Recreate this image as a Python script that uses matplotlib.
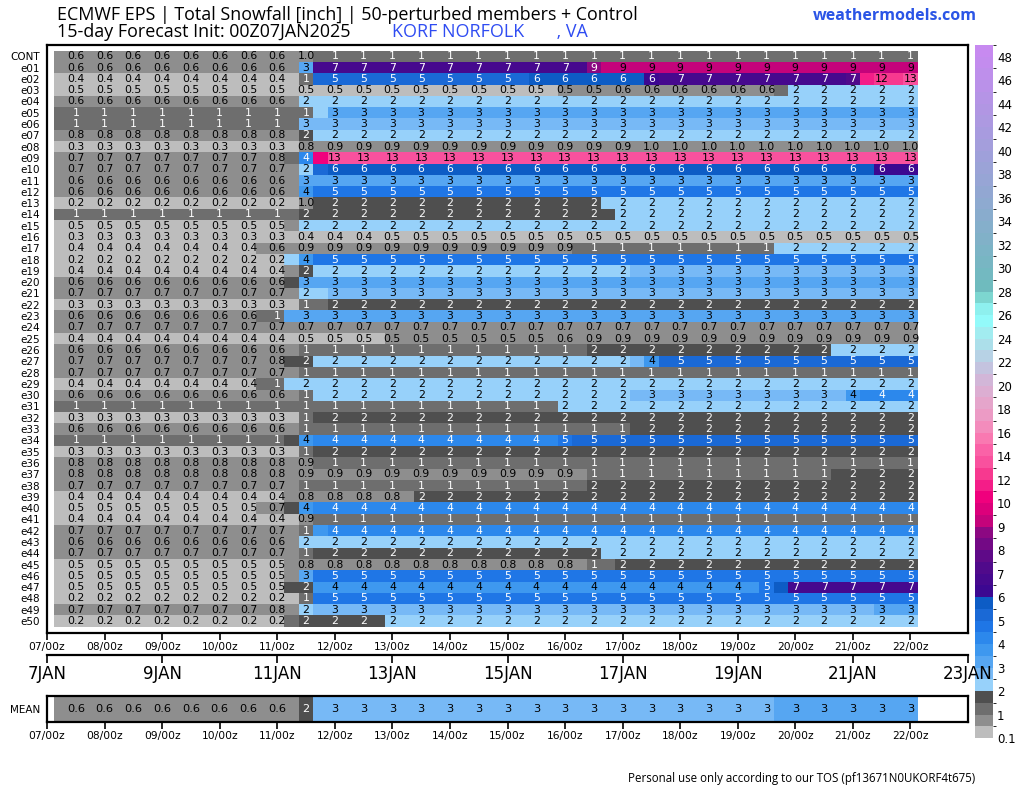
import matplotlib
matplotlib.use("Agg")
import matplotlib.pyplot as plt
import numpy as np
from matplotlib.colors import ListedColormap, BoundaryNorm, to_rgb
import matplotlib.cm as cm

# ---- data (run length: (value, number of 6h steps)) ----
members = ["CONT"] + ["e%02d" % i for i in range(1, 51)]
steps_h = np.arange(6, 361, 6)          # 07/06z ... 22/00z
day_labels = ["%02d/00z" % d for d in range(7, 23)]
date_labels = ["%dJAN" % d for d in range(7, 24, 2)]

snow_rle = [
    [(0.6, 16), (0.8, 1), (0.96, 1), (1.2, 42)],                       # CONT
    [(0.6, 17), (3.2, 1), (6.8, 19), (8.8, 1), (9.2, 22)],             # e01
    [(0.4, 17), (1.2, 1), (5.2, 15), (5.8, 8), (6.2, 1), (6.8, 13),
     (7.2, 1), (11.5, 1), (12.2, 1), (12.6, 1), (13.2, 1)],            # e02
    [(0.47, 35), (0.53, 3), (0.6, 12), (1.2, 1), (2.2, 9)],            # e03
    [(0.6, 16), (0.7, 1), (2.2, 43)],                                  # e04
    [(1.2, 18), (2.2, 1), (3.2, 41)],                                  # e05
    [(1.2, 17), (2.8, 43)],                                            # e06
    [(0.8, 17), (1.8, 1), (2.2, 42)],                                  # e07
    [(0.3, 17), (0.8, 1), (0.9, 23), (0.97, 19)],                      # e08
    [(0.7, 14), (0.8, 2), (1.2, 1), (4.2, 1), (10.5, 1), (13.2, 41)],  # e09
    [(0.7, 17), (2.2, 1), (5.2, 1), (5.8, 38), (6.2, 3)],              # e10
    [(0.6, 17), (3.2, 43)],                                            # e11
    [(0.6, 17), (3.8, 1), (4.8, 42)],                                  # e12
    [(0.2, 17), (0.96, 1), (1.8, 20), (2.2, 22)],                      # e13
    [(1.2, 17), (1.8, 22), (2.2, 21)],                                 # e14
    [(0.47, 16), (0.7, 1), (2.2, 43)],                                 # e15
    [(0.3, 17), (0.4, 6), (0.48, 37)],                                 # e16
    [(0.4, 14), (0.6, 3), (0.9, 19), (1.2, 14), (2.2, 10)],            # e17
    [(0.2, 16), (2.2, 1), (3.8, 1), (4.8, 42)],                        # e18
    [(0.4, 16), (0.7, 1), (1.8, 1), (2.2, 22), (2.8, 20)],             # e19
    [(0.6, 16), (1.8, 1), (3.2, 43)],                                  # e20
    [(0.7, 17), (2.2, 2), (2.8, 41)],                                  # e21
    [(0.3, 17), (1.2, 2), (1.8, 41)],                                  # e22
    [(0.6, 14), (1.2, 2), (3.2, 44)],                                  # e23
    [(0.7, 60)],                                                       # e24
    [(0.4, 17), (0.48, 6), (0.52, 11), (0.6, 2), (0.9, 24)],           # e25
    [(0.6, 16), (0.8, 1), (1.2, 20), (1.8, 17), (2.2, 6)],             # e26
    [(0.7, 14), (0.8, 2), (1.8, 2), (2.2, 22), (2.8, 1), (3.8, 1),
     (5.2, 18)],                                                       # e27
    [(0.7, 17), (1.2, 43)],                                            # e28
    [(0.4, 14), (1.2, 2), (2.2, 44)],                                  # e29
    [(0.6, 17), (1.2, 1), (2.2, 22), (2.8, 15), (3.8, 1), (4.2, 4)],   # e30
    [(1.2, 35), (2.2, 25)],                                            # e31
    [(0.3, 17), (1.2, 1), (1.8, 42)],                                  # e32
    [(0.6, 17), (1.2, 23), (1.8, 20)],                                 # e33
    [(1.2, 16), (1.8, 1), (3.8, 1), (4.2, 17), (4.8, 1), (5.2, 24)],   # e34
    [(0.3, 17), (1.2, 1), (1.8, 42)],                                  # e35
    [(0.8, 17), (0.9, 1), (1.2, 42)],                                  # e36
    [(0.8, 17), (0.9, 20), (1.2, 17), (1.8, 6)],                       # e37
    [(0.7, 17), (1.2, 20), (1.8, 23)],                                 # e38
    [(0.4, 16), (0.6, 1), (0.8, 8), (1.8, 35)],                        # e39
    [(0.47, 14), (0.7, 2), (1.8, 1), (3.8, 1), (4.2, 42)],             # e40
    [(0.4, 17), (0.9, 1), (1.2, 42)],                                  # e41
    [(0.7, 17), (1.2, 1), (3.8, 1), (4.2, 41)],                        # e42
    [(0.6, 17), (2.2, 43)],                                            # e43
    [(0.7, 17), (1.2, 1), (1.8, 20), (2.2, 22)],                       # e44
    [(0.47, 16), (0.8, 21), (1.2, 2), (1.8, 21)],                      # e45
    [(0.47, 16), (0.7, 1), (3.2, 1), (4.8, 42)],                       # e46
    [(0.47, 16), (1.8, 2), (3.8, 31), (4.8, 1), (5.8, 1), (6.8, 9)],   # e47
    [(0.2, 17), (1.2, 1), (4.8, 42)],                                  # e48
    [(0.7, 14), (0.8, 3), (2.2, 1), (2.8, 39), (3.2, 3)],              # e49
    [(0.2, 16), (1.2, 1), (1.8, 6), (2.2, 37)],                        # e50
]
mean_rle = [(0.6, 17), (1.8, 1), (2.8, 32), (3.2, 10)]

levels = [0.1, 0.5, 1, 1.5, 2, 2.5, 3, 3.5, 4, 4.5, 5, 5.5, 6, 6.5, 7, 7.5,
          8, 8.5, 9, 9.5, 10] + list(range(11, 50))
cbar_ticks = [0.1, 1, 2, 3, 4, 5, 6, 7, 8, 9, 10] + list(range(12, 49, 2))

low_colors = ["#bdbdbd", "#8e8e8e", "#6e6e6e", "#4f4f4f",
              "#97d1fa", "#77b9f6", "#56a6f2", "#3e98ef", "#2c88ec", "#1f76e6",
              "#1a69d6", "#0d5cc5", "#3c0891", "#46098e", "#500a8b", "#5f0a88",
              "#730985", "#8c0882", "#c4037b", "#dc007b", "#f0007d", "#f41d88",
              "#f7398f", "#f9519e", "#fa62a7", "#f979b1", "#f38cbc", "#ec9bc5",
              "#e5a5cb", "#dcaed2", "#d2b6d8", "#c4c3df", "#b7d2e5", "#acdfea",
              "#a2ecf0", "#93fafa", "#8ef0ee", "#7dd6d0"]
c0, c1 = np.array(to_rgb("#6fbbbe")), np.array(to_rgb("#c78af0"))
high_colors = [tuple(c0 + (c1 - c0) * t) for t in np.linspace(0, 1, 21)]
cmap = ListedColormap(low_colors + high_colors)
norm = BoundaryNorm(levels, cmap.N)


def expand(rle):
    return np.concatenate([np.full(n, v) for v, n in rle])


snow = np.array([expand(r) for r in snow_rle])
mean = expand(mean_rle)[None, :]


def label(v):
    return "%.1f" % v if v < 1 else "%d" % int(round(v))


def txt_color(v):
    return "white" if (1 <= v < 2) or (4 <= v < 9) else "black"


W, H = 1024, 788
fig = plt.figure(figsize=(W / 100, H / 100), dpi=100)


def rect(l, t, r, b):
    return [l / W, 1 - b / H, (r - l) / W, (b - t) / H]


x_edges = np.arange(3, 364, 6)

# ---- colorbar ----
cax = fig.add_axes(rect(975, 45, 993, 738))
cb = fig.colorbar(cm.ScalarMappable(norm=norm, cmap=cmap), cax=cax,
                  ticks=cbar_ticks, spacing="uniform")
cb.outline.set_visible(False)
cb.ax.set_yticklabels(["0.1"] + [str(t) for t in cbar_ticks[1:]])
cb.ax.tick_params(length=0, labelsize=8.5, pad=3)

# ---- main grid ----
ax = fig.add_axes(rect(47, 45, 968, 632.7))
ax.pcolormesh(x_edges, np.arange(-0.5, 51.5, 1), snow, cmap=cmap, norm=norm)
for i in range(snow.shape[0]):
    for j in range(1, snow.shape[1], 2):
        v = snow[i, j]
        ax.text(steps_h[j], i, label(v), ha="center", va="center",
                fontsize=7.8, color=txt_color(v))
ax.set_xlim(0, 384)
ax.set_ylim(51.03, -1.0)
ax.set_yticks(range(len(members)))
ax.set_yticklabels(members, fontsize=7.5)
ax.tick_params(axis="y", length=0, pad=5)
ax.set_xticks(range(0, 361, 24))
ax.set_xticklabels(day_labels, fontsize=7.7)
ax.tick_params(axis="x", length=5, width=1.2, pad=2)
for s in ax.spines.values():
    s.set_linewidth(1.6)

# ---- date axis ----
ax2 = fig.add_axes(rect(47, 650, 968, 655))
ax2.set_zorder(5)
ax2.set_xlim(0, 384)
ax2.set_yticks([])
for k in ["top", "left", "right"]:
    ax2.spines[k].set_visible(False)
ax2.spines["bottom"].set_linewidth(1.6)
ax2.patch.set_alpha(0)
ax2.set_xticks(range(0, 385, 48))
ax2.set_xticklabels(date_labels, fontsize=12)
ax2.tick_params(axis="x", length=6, width=1.2, pad=1.5)

# ---- mean row ----
ax3 = fig.add_axes(rect(47, 696, 968, 721.7))
ax3.pcolormesh(x_edges, [-0.5, 0.5], mean, cmap=cmap, norm=norm)
for j in range(1, mean.shape[1], 2):
    v = mean[0, j]
    ax3.text(steps_h[j], 0, label(v), ha="center", va="center",
             fontsize=8.2, color=txt_color(v))
ax3.set_xlim(0, 384)
ax3.set_ylim(0.55, -0.55)
ax3.set_yticks([0])
ax3.set_yticklabels(["MEAN"], fontsize=7.5)
ax3.tick_params(axis="y", length=0, pad=5)
ax3.set_xticks(range(0, 361, 24))
ax3.set_xticklabels(day_labels, fontsize=7.7)
ax3.tick_params(axis="x", length=5, width=1.2, pad=2)
for s in ax3.spines.values():
    s.set_linewidth(1.6)

# ---- texts ----
fig.text(57 / W, 1 - 20 / H,
         "ECMWF EPS | Total Snowfall [inch] | 50-perturbed members + Control",
         family="Open Sans", fontsize=12.9, va="baseline")
fig.text(57 / W, 1 - 37 / H, "15-day Forecast Init: 00Z07JAN2025",
         family="Open Sans", fontsize=12.9, va="baseline")
fig.text(392 / W, 1 - 37 / H, "KORF NORFOLK       , VA",
         family="Open Sans", fontsize=12.9, va="baseline", color="#2f4cf2")
fig.text(977 / W, 1 - 19.5 / H, "weathermodels.com", family="Open Sans",
         fontsize=11.5, fontweight="bold", color="#2b55e6", ha="right",
         va="baseline")
fig.text(975 / W, 1 - 782 / H,
         "Personal use only according to our TOS (pf13671N0UKORF4t675)",
         family="Open Sans", fontsize=8.3, ha="right", va="baseline")

fig.savefig("out.png", dpi=100)
